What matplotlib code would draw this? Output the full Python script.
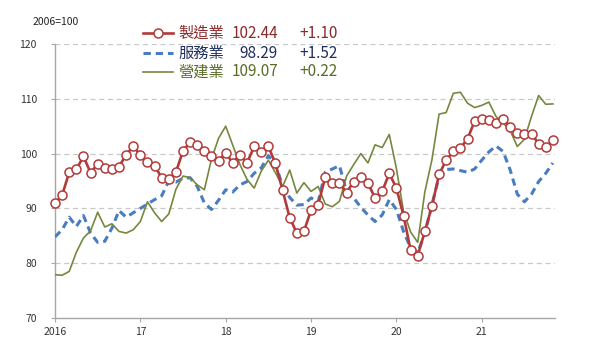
import numpy as np
import matplotlib
matplotlib.use("Agg")
import matplotlib.pyplot as plt
from matplotlib.lines import Line2D

plt.rcParams['font.family'] = ['Noto Sans CJK TC', 'DejaVu Sans']

# monthly index, Jan 2016 .. Nov 2021 (2006=100)
names = ['製造業', '服務業', '營建業']
latest = ['102.44', '98.29', '109.07']
change = ['+1.10', '+1.52', '+0.22']
year_labels = ['2016', '17', '18', '19', '20', '21']

manufacturing = [
    90.9, 92.4, 96.6, 97.1, 99.5, 96.5, 98.1, 97.4, 97.2, 97.6, 99.8, 101.3,
    99.8, 98.4, 97.8, 95.6, 95.4, 96.6, 100.5, 102.1, 101.6, 100.5, 99.5, 98.7,
    100.1, 98.3, 99.8, 98.3, 101.3, 100.3, 101.3, 98.2, 93.3, 88.3, 85.5, 85.8,
    89.7, 90.7, 95.7, 94.6, 94.6, 92.9, 94.9, 95.7, 94.6, 91.9, 93.1, 96.4,
    93.7, 88.7, 82.4, 81.4, 85.8, 90.4, 96.2, 98.8, 100.4, 101.0, 102.7, 105.9,
    106.3, 106.1, 105.6, 106.4, 104.9, 103.8, 103.6, 103.6, 101.8, 101.2, 102.44,
]
services = [
    84.8, 86.1, 88.4, 86.7, 88.7, 85.5, 83.8, 84.0, 86.4, 89.6, 88.4, 89.2,
    90.0, 90.8, 91.6, 92.3, 95.0, 94.8, 95.5, 95.6, 94.0, 91.0, 89.8, 91.5,
    93.4, 93.0, 94.3, 94.9, 96.4, 97.4, 99.6, 98.2, 94.0, 92.0, 90.6, 90.7,
    91.9, 91.2, 96.6, 97.2, 97.8, 93.0, 91.9, 90.2, 88.8, 87.6, 88.8, 91.6,
    89.8, 85.8, 82.8, 82.0, 85.4, 90.7, 95.8, 97.1, 97.2, 96.9, 96.6, 97.2,
    98.8, 100.3, 101.4, 100.4, 97.0, 92.6, 91.2, 92.6, 94.9, 96.4, 98.29,
]
construction = [
    77.9, 77.8, 78.5, 82.0, 84.6, 85.9, 89.3, 86.6, 87.2, 85.8, 85.5, 86.1,
    87.6, 91.2, 89.2, 87.6, 89.0, 93.5, 95.9, 95.6, 94.3, 93.4, 99.0, 102.8,
    105.0, 101.5, 98.0, 95.3, 93.7, 96.8, 98.8, 96.5, 94.0, 97.0, 92.8, 94.7,
    93.1, 94.0, 90.8, 90.3, 91.3, 95.9, 98.0, 100.0, 98.3, 101.6, 101.1, 103.5,
    97.3, 89.5, 85.7, 83.8, 93.0, 98.9, 107.2, 107.5, 111.0, 111.2, 109.2, 108.4,
    108.8, 109.4, 106.8, 105.6, 104.2, 101.3, 102.6, 106.8, 110.6, 109.0, 109.07,
]

months = np.arange(len(manufacturing))

red = '#B23A3A'
blue = '#4A7DC0'
green = '#76883F'
text_cols = ['#8B2A2A', '#1F2F5F', '#5A6B2A']

fig = plt.figure(figsize=(6, 3.62), dpi=100)
ax = fig.add_axes([55/600, 1-318/362, 500/600, 274/362])

ax.plot(months, services, color=blue, lw=2.2, dashes=(2.4, 1.6), zorder=3)
ax.plot(months, construction, color=green, lw=1.2, zorder=4)
ax.plot(months, manufacturing, color=red, lw=1.9, marker='o', ms=6.5,
        mfc='white', mec=red, mew=1.1, zorder=5, clip_on=False)

ax.set_xlim(0, 70.3)
ax.set_ylim(70, 120)
ax.set_yticks([70, 80, 90, 100, 110, 120])
ax.set_xticks(np.arange(0, 72, 12))
ax.set_xticklabels(year_labels)
for y in [80, 90, 100, 110, 120]:
    ax.axhline(y, color='#C8C8C8', lw=0.9, dashes=(4, 3), zorder=1)

for s in ['top', 'right']:
    ax.spines[s].set_visible(False)
for s in ['left', 'bottom']:
    ax.spines[s].set_color('#A6A6A6')
    ax.spines[s].set_linewidth(1.0)
ax.tick_params(axis='both', colors='#A6A6A6', labelcolor='#333333',
               labelsize=7.5, length=3, width=0.8)
ax.tick_params(axis='y', pad=10)

fig.text(33/600, 1-22/362, '2006=100', fontsize=7.5, color='#222222',
         va='center', ha='left')

# legend block
rows_y = [1-33/362, 1-53/362, 1-72/362]
styles = [dict(color=red, lw=1.9, marker='o', ms=6.5, mfc='white', mec=red, mew=1.1, markevery=[1]),
          dict(color=blue, lw=2.2, dashes=(2.4, 1.6)),
          dict(color=green, lw=1.2)]
for i in range(3):
    y = rows_y[i]
    fig.add_artist(Line2D([143/600, 158/600, 173/600], [y, y, y],
                          transform=fig.transFigure, **styles[i]))
    fig.text(178/600, y, names[i], fontsize=11, color=text_cols[i], va='center', ha='left')
    fig.text(278/600, y, latest[i], fontsize=11, color=text_cols[i], va='center', ha='right')
    fig.text(299/600, y, change[i], fontsize=11, color=text_cols[i], va='center', ha='left')

fig.savefig('out.png', dpi=100)
